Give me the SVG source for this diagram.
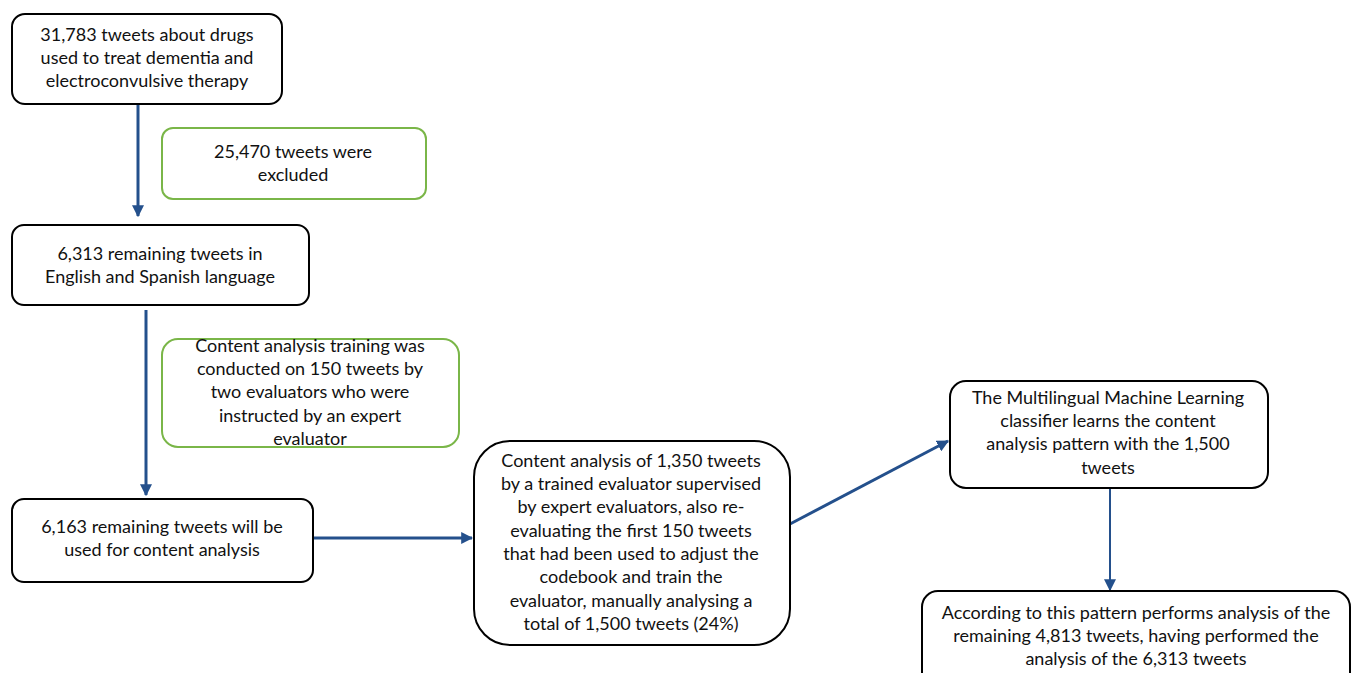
<svg xmlns="http://www.w3.org/2000/svg" width="1353" height="673" viewBox="0 0 1353 673">
<defs>
<style>
.n{fill:#fff;stroke:#000;stroke-width:2}
.g{fill:#fff;stroke:#7ab648;stroke-width:2}
.t{font-family:Lato,"Liberation Sans",sans-serif;font-size:18px;fill:#111;text-anchor:middle}
.c{stroke:#24508c;stroke-width:3;fill:none}
.c2{stroke:#24508c;stroke-width:2;fill:none}
</style>
<marker id="ah" viewBox="0 0 10 10" refX="9" refY="5" markerWidth="4" markerHeight="4" orient="auto" markerUnits="strokeWidth"><path d="M0,0L10,5L0,10z" fill="#24508c"/></marker>
<marker id="ah2" viewBox="0 0 10 10" refX="9" refY="5" markerWidth="6" markerHeight="6" orient="auto" markerUnits="strokeWidth"><path d="M0,0L10,5L0,10z" fill="#24508c"/></marker>
</defs>
<rect width="1353" height="673" fill="#fff"/>
<g id="connectors">
<line class="c" x1="138" y1="105" x2="138" y2="216" marker-end="url(#ah)"/>
<line class="c" x1="146" y1="310" x2="146" y2="495" marker-end="url(#ah)"/>
<line class="c" x1="313" y1="538" x2="472" y2="538" marker-end="url(#ah)"/>
<line class="c" x1="790" y1="524" x2="948" y2="441" marker-end="url(#ah)"/>
<line class="c2" x1="1110" y1="488" x2="1110" y2="590" marker-end="url(#ah2)"/>
</g>
<g id="n1"><rect class="n" x="12" y="14" width="270" height="90" rx="13"/>
<text class="t" x="147" y="41">31,783 tweets about drugs</text>
<text class="t" x="147" y="64">used to treat dementia and</text>
<text class="t" x="147" y="87">electroconvulsive therapy</text></g>
<g id="g1"><rect class="g" x="162" y="128" width="264" height="71" rx="11"/>
<text class="t" x="293" y="158">25,470 tweets were</text>
<text class="t" x="293" y="181">excluded</text></g>
<g id="n2"><rect class="n" x="12" y="225" width="297" height="80" rx="12"/>
<text class="t" x="160" y="260">6,313 remaining tweets in</text>
<text class="t" x="160" y="283">English and Spanish language</text></g>
<g id="g2"><rect class="g" x="162" y="339" width="297" height="108" rx="16"/>
<text class="t" x="310" y="352">Content analysis training was</text>
<text class="t" x="310" y="375">conducted on 150 tweets by</text>
<text class="t" x="310" y="398">two evaluators who were</text>
<text class="t" x="310" y="422">instructed by an expert</text>
<text class="t" x="310" y="445">evaluator</text></g>
<g id="n3"><rect class="n" x="12" y="499" width="301" height="83" rx="12"/>
<text class="t" x="162" y="533">6,163 remaining tweets will be</text>
<text class="t" x="162" y="556">used for content analysis</text></g>
<g id="n4"><rect class="n" x="474" y="441" width="316" height="204" rx="36"/>
<text class="t" x="631" y="467">Content analysis of 1,350 tweets</text>
<text class="t" x="631" y="490">by a trained evaluator supervised</text>
<text class="t" x="631" y="513">by expert evaluators, also re-</text>
<text class="t" x="631" y="537">evaluating the first 150 tweets</text>
<text class="t" x="631" y="560">that had been used to adjust the</text>
<text class="t" x="631" y="583">codebook and train the</text>
<text class="t" x="631" y="607">evaluator, manually analysing a</text>
<text class="t" x="631" y="630">total of 1,500 tweets (24%)</text></g>
<g id="n5"><rect class="n" x="950" y="381" width="318" height="107" rx="16"/>
<text class="t" x="1108" y="404">The Multilingual Machine Learning</text>
<text class="t" x="1108" y="427">classifier learns the content</text>
<text class="t" x="1108" y="450">analysis pattern with the 1,500</text>
<text class="t" x="1108" y="474">tweets</text></g>
<g id="n6"><rect class="n" x="922" y="591" width="428" height="100" rx="16"/>
<text class="t" x="1136" y="619">According to this pattern performs analysis of the</text>
<text class="t" x="1136" y="642">remaining 4,813 tweets, having performed the</text>
<text class="t" x="1136" y="665">analysis of the 6,313 tweets</text></g>
</svg>
